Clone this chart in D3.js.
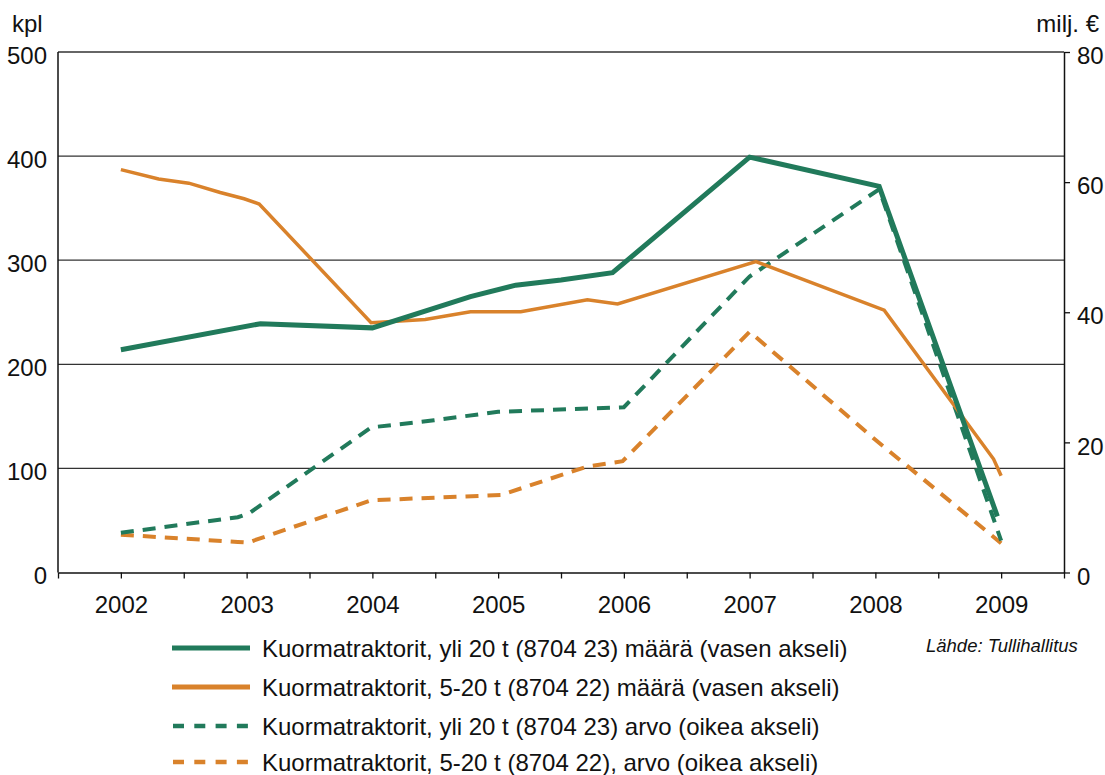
<!DOCTYPE html>
<html>
<head>
<meta charset="utf-8">
<script src="https://cdn.jsdelivr.net/npm/d3@7"></script>
<style>
  body { margin: 0; background: #fff; }
  svg { font-family: Arial, "Liberation Sans", sans-serif; }
</style>
</head>
<body>
<div id="chart"></div>
<script>
// years on the x axis
var years = [2002, 2003, 2004, 2005, 2006, 2007, 2008, 2009];
var leftTicks = [0, 100, 200, 300, 400, 500];
var rightTicks = [0, 20, 40, 60, 80];

// yli 20 t, maara (left axis)
var heavyCountX = [2002, 2003.11, 2004, 2004.78, 2005.14, 2005.5, 2005.91, 2007, 2008.03, 2008.97];
var heavyCountY = [214, 239, 235, 265, 276, 281, 288, 399, 371, 54];

// 5-20 t, maara (left axis)
var lightCountX = [2002, 2002.3, 2002.54, 2002.79, 2002.98, 2003.1, 2003.99, 2004.42, 2004.78, 2005.18, 2005.71, 2005.95, 2007.05, 2008.07, 2008.94, 2009];
var lightCountY = [387, 378, 374, 365, 359, 354, 240, 243, 250.5, 250.5, 262, 258, 298.6, 252, 109, 93];

// yli 20 t, arvo (right axis)
var heavyValueX = [2002, 2002.93, 2003.02, 2003.99, 2004.49, 2005, 2006, 2007, 2008.03, 2009];
var heavyValueY = [6.1, 8.5, 9.1, 22.3, 23.4, 24.7, 25.4, 45.5, 58.9, 4.9];

// 5-20 t, arvo (right axis)
var lightValueX = [2002, 2002.93, 2003.01, 2003.99, 2005.02, 2005.71, 2005.99, 2007, 2008, 2009];
var lightValueY = [5.8, 4.7, 4.6, 11.1, 11.9, 16.3, 17.1, 37.0, 20.4, 4.5];

var legendLabels = [
  "Kuormatraktorit, yli 20 t (8704 23) määrä (vasen akseli)",
  "Kuormatraktorit, 5-20 t (8704 22) määrä (vasen akseli)",
  "Kuormatraktorit, yli 20 t (8704 23) arvo (oikea akseli)",
  "Kuormatraktorit, 5-20 t (8704 22), arvo (oikea akseli)"
];

var green = "#217a5b";
var orange = "#d9822b";
var fontStack = "Arial, 'Liberation Sans', sans-serif";

var svgWidth = 1105, svgHeight = 775;
var margin = { top: 52, left: 58, right: 41, bottom: 202.5 };
var width = svgWidth - margin.left - margin.right;
var height = svgHeight - margin.top - margin.bottom;

var svg = d3.select("#chart").append("svg")
  .attr("width", svgWidth)
  .attr("height", svgHeight);

var chartGroup = svg.append("g")
  .attr("transform", `translate(${margin.left}, ${margin.top})`);

// scales
var xScale = d3.scaleLinear().domain([2001.5, 2009.5]).range([0, width]);
var yLeft = d3.scaleLinear().domain([0, 500]).range([height, 0]);
var yRight = d3.scaleLinear().domain([0, 80]).range([height, 0]);

// gridlines
chartGroup.selectAll(".grid")
  .data(leftTicks.filter(d => d > 0))
  .enter()
  .append("line")
  .attr("x1", 0)
  .attr("x2", width)
  .attr("y1", d => yLeft(d))
  .attr("y2", d => yLeft(d))
  .attr("stroke", "#333")
  .attr("stroke-width", 1.3);

// left labels
chartGroup.selectAll(".lefttick")
  .data(leftTicks)
  .enter()
  .append("text")
  .attr("x", -11)
  .attr("y", d => yLeft(d) + 3)
  .attr("dy", "0.36em")
  .attr("text-anchor", "end")
  .attr("font-size", "24px")
  .attr("fill", "#111")
  .text(d => d);

// left axis line
chartGroup.append("line")
  .attr("x1", 0).attr("x2", 0)
  .attr("y1", 0).attr("y2", height)
  .attr("stroke", "#111").attr("stroke-width", 1.5);

// right axis
var rightAxis = d3.axisRight(yRight)
  .tickValues(rightTicks)
  .tickSizeInner(6)
  .tickSizeOuter(0)
  .tickPadding(7);

var rAxis = chartGroup.append("g")
  .attr("transform", `translate(${width}, 0)`)
  .call(rightAxis);
rAxis.select(".domain").attr("stroke", "#111").attr("stroke-width", 1.5);
rAxis.selectAll(".tick line").attr("stroke", "#111").attr("stroke-width", 1.3);
rAxis.selectAll(".tick text")
  .attr("font-size", "24px")
  .attr("font-family", fontStack)
  .attr("dy", "0.36em")
  .attr("y", 3)
  .attr("fill", "#111");

// bottom axis, ticks every half year
var halfYears = d3.range(2001.5, 2009.51, 0.5);
var xAxis = d3.axisBottom(xScale)
  .tickValues(halfYears)
  .tickSizeInner(6)
  .tickSizeOuter(0)
  .tickFormat(d => years.includes(d) ? d : "")
  .tickPadding(17);

var bAxis = chartGroup.append("g")
  .attr("transform", `translate(0, ${height})`)
  .call(xAxis);
bAxis.select(".domain").attr("stroke", "#111").attr("stroke-width", 1.5);
bAxis.selectAll(".tick line").attr("stroke", "#111").attr("stroke-width", 1.3);
bAxis.selectAll(".tick text")
  .attr("font-size", "24px")
  .attr("font-family", fontStack)
  .attr("fill", "#111");

// axis titles
svg.append("text")
  .attr("x", 12).attr("y", 32)
  .attr("font-size", "24px").attr("fill", "#111")
  .text("kpl");

svg.append("text")
  .attr("x", 1099).attr("y", 32)
  .attr("text-anchor", "end")
  .attr("font-size", "24px").attr("fill", "#111")
  .text("milj. €");

// lines
var series = [
  { xs: heavyCountX, ys: heavyCountY, scale: yLeft, color: green, w: 5, dash: null },
  { xs: lightCountX, ys: lightCountY, scale: yLeft, color: orange, w: 3.5, dash: null },
  { xs: heavyValueX, ys: heavyValueY, scale: yRight, color: green, w: 4, dash: "13,9" },
  { xs: lightValueX, ys: lightValueY, scale: yRight, color: orange, w: 4, dash: "13,9" }
];

// draw dashed ones first so solid green stays on top like the original
[3, 2, 1, 0].forEach(function(i) {
  var s = series[i];
  var pts = s.xs.map((x, j) => [x, s.ys[j]]);
  var line = d3.line()
    .x(d => xScale(d[0]))
    .y(d => s.scale(d[1]));
  chartGroup.append("path")
    .datum(pts)
    .attr("d", line)
    .attr("fill", "none")
    .attr("stroke", s.color)
    .attr("stroke-width", s.w)
    .attr("stroke-linejoin", "miter")
    .attr("stroke-dasharray", s.dash);
});

// legend
var legend = svg.append("g");
var legendY = [648, 687, 726, 762];

legend.selectAll(".legLine")
  .data(series)
  .enter()
  .append("line")
  .attr("x1", (d, i) => i < 2 ? 172 : 173)
  .attr("x2", 250)
  .attr("y1", (d, i) => legendY[i])
  .attr("y2", (d, i) => legendY[i])
  .attr("stroke", d => d.color)
  .attr("stroke-width", (d, i) => i < 2 ? 5 : 4.5)
  .attr("stroke-dasharray", (d, i) => i < 2 ? null : "11,10.3");

legend.selectAll(".legText")
  .data(legendLabels)
  .enter()
  .append("text")
  .attr("x", 262)
  .attr("y", (d, i) => legendY[i])
  .attr("dy", "0.36em")
  .attr("font-size", "24px")
  .attr("fill", "#111")
  .text(d => d);

// source
svg.append("text")
  .attr("x", 926).attr("y", 652)
  .attr("font-size", "18.5px")
  .attr("font-style", "italic")
  .attr("fill", "#111")
  .text("Lähde: Tullihallitus");
</script>
</body>
</html>
